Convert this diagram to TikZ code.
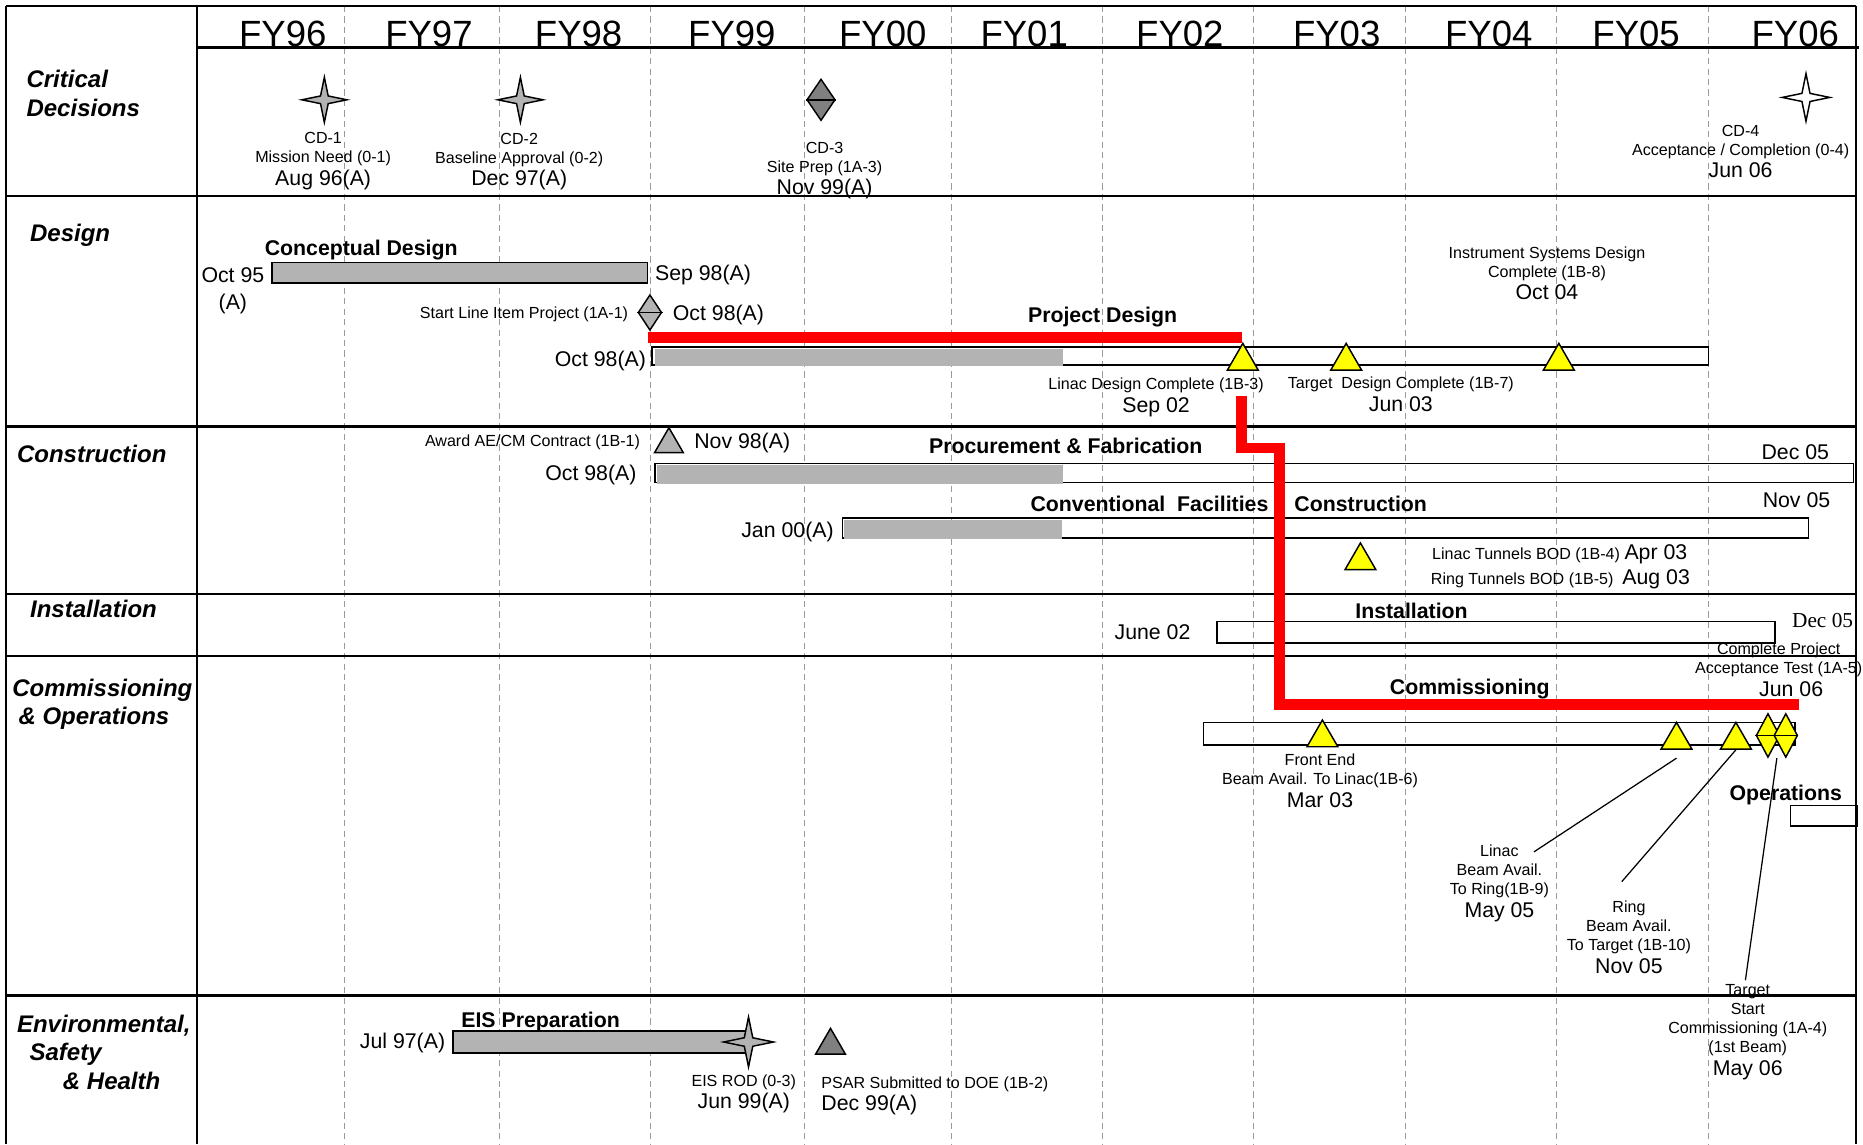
\documentclass[tikz,border=0pt]{standalone}
\usepackage{fontspec}
\setmainfont{Liberation Sans}
\newfontfamily\timesfam{Liberation Serif}
\usepackage{tikz}
\usetikzlibrary{shapes.geometric,calc}
\definecolor{bargray}{HTML}{B3B3B3}
\definecolor{markgray}{HTML}{808080}
\definecolor{gridgray}{HTML}{9A9A9A}
\definecolor{cpred}{HTML}{FF0000}
\definecolor{msyellow}{HTML}{FFFF00}
\newcommand{\fysize}{\fontsize{17.5}{20}\selectfont}
\newcommand{\lblsize}{\fontsize{7.7}{9.1}\selectfont}
\newcommand{\datesize}{\fontsize{10.2}{12}\selectfont}
\newcommand{\barsize}{\bfseries\fontsize{10.2}{12}\selectfont}
\newcommand{\rowsize}{\bfseries\itshape\fontsize{11.5}{13.6}\selectfont}

\begin{document}
\begin{tikzpicture}[x=0.02cm, y=-0.02cm,
    fyline/.style={gridgray, dash pattern=on 3pt off 2pt, line width=0.4pt},
    rowline/.style={line width=1.2pt},
    colline/.style={line width=0.8pt},
    donebar/.style={draw, fill=bargray, line width=0.8pt},
    openbar/.style={draw, line width=0.8pt},
    critpath/.style={cpred, line width=5pt},
    leader/.style={line width=0.6pt},
    ytri/.style={regular polygon, regular polygon sides=3, draw, fill=msyellow, inner sep=0pt, minimum size=0.6cm, line width=0.7pt},
    msdiamond/.style={diamond, draw, inner sep=0pt, minimum width=0.4cm, minimum height=0.7cm, line width=0.7pt},
    pics/fourstar/.style 2 args={code={
        \draw[line width=0.7pt, fill=#1] (0,-#2) -- (0.17*#2,-0.17*#2) -- (#2,0) -- (0.17*#2,0.17*#2)
            -- (0,#2) -- (-0.17*#2,0.17*#2) -- (-#2,0) -- (-0.17*#2,-0.17*#2) -- cycle;
        \coordinate (-c) at (0,0);}},
    fy/.style={font=\fysize, inner sep=0pt, text height=12.5pt, text depth=0pt},
    lbl/.style={font=\lblsize, inner sep=0pt, text height=5.5pt, text depth=0pt},
    dte/.style={font=\datesize, inner sep=0pt, text height=7.3pt, text depth=0pt},
    barlbl/.style={font=\barsize, inner sep=0pt, text height=7.3pt, text depth=0pt},
    lblblock/.style={font=\lblsize, inner sep=0pt, align=center, anchor=north},
    rowlbl/.style={font=\rowsize, inner sep=0pt, align=left, anchor=north west}]
    \useasboundingbox (0,0) rectangle (1568,963);

    % Year grid
    \foreach \gx in {290,420,547,677,801,928,1055,1183,1310,1438}
        \draw[fyline] (\gx,5) -- (\gx,963);

    % Frame
    \draw[rowline] (5,5) -- (1562,5);
    \draw[rowline] (5,5) -- (5,963);
    \draw[rowline] (1562,5) -- (1562,963);
    \draw[colline] (166,5) -- (166,963);
    \draw[rowline] (166,40) -- (1565,40);
    \foreach \ry in {165,359,500,552,838}
        \draw[rowline] (5,\ry) -- (1562,\ry);

    % Fiscal years
    \foreach \fx/\fn in {238/96,361/97,487/98,616/99,743/00,862/01,993/02,1125/03,1253/04,1377/05,1511/06}
        \node[fy] (fy\fn) at (\fx,28) {FY\fn};

    % Row labels
    \node[rowlbl] (rowCD) at (22,59) {Critical\\Decisions};
    \node[rowlbl] (rowDes) at (25,188) {Design};
    \node[rowlbl] (rowCon) at (14,374) {Construction};
    \node[rowlbl] (rowIns) at (25,505) {Installation};
    \node[rowlbl] (rowCom) at (10,571) {Commissioning\\\hspace{3pt}\& Operations};
    \node[rowlbl] (rowEnv) at (14,854) {Environmental,\\\hspace{6pt}Safety\\\hspace{22pt}\& Health};

    % Bars
    \draw[donebar] (229,221) rectangle (545,238);
    \draw[openbar] (549,292) rectangle (1438,307);
    \fill[bargray] (551,293.5) rectangle (895,308);
    \draw[openbar] (551,390) rectangle (1560,406);
    \fill[bargray] (553,391.5) rectangle (895,407);
    \draw[openbar] (709,436) rectangle (1522,453);
    \fill[bargray] (710,437.5) rectangle (894,454);
    \draw[openbar] (1024,523) rectangle (1494,541);
    \draw[openbar] (1013,608) rectangle (1511,627);
    \draw[openbar] (1507,678) rectangle (1563,695);
    \draw[donebar] (381,868) rectangle (630,886);

    % Critical path
    \coordinate (cpStart) at (545,284);
    \coordinate (cpLinac) at (1045,284);
    \coordinate (cpResume) at (1045,333);
    \coordinate (cpEnd) at (1514,593);
    \draw[critpath] (cpStart) -- (cpLinac);
    \draw[critpath] (cpResume) -- (1045,377) -- (1077,377) -- (1077,593) -- (cpEnd);

    % Critical decisions
    \pic (cdOne) at (273,84) {fourstar={bargray}{19}};
    \pic (cdTwo) at (438,84) {fourstar={bargray}{19}};
    \node[msdiamond, fill=markgray, minimum width=0.48cm] (cdThree) at (691,84) {};
    \draw[line width=0.7pt] (cdThree.west) -- (cdThree.east);
    \pic (cdFour) at (1520,82) {fourstar={white}{20}};
    \node[lblblock] (cdOneTxt) at (272,111) {CD-1\\Mission Need (0-1)\\[1.7pt]{\datesize Aug 96(A)}};
    \node[lblblock] (cdTwoTxt) at (437,112) {CD-2\\Baseline Approval (0-2)\\[1.5pt]{\datesize Dec 97(A)}};
    \node[lblblock] (cdThreeTxt) at (694,119) {CD-3\\Site Prep (1A-3)\\[1.5pt]{\datesize Nov 99(A)}};
    \node[lblblock] (cdFourTxt) at (1465,105) {CD-4\\Acceptance / Completion (0-4)\\[1.5pt]{\datesize Jun 06}};

    % Design
    \node[barlbl] (cdesLbl) at (304,209) {Conceptual Design};
    \node[lblblock, font=\datesize] (cdesStart) at (196,224.6) {Oct 95\\[1pt](A)};
    \node[dte, anchor=west] (cdesEnd) at (551,230) {Sep 98(A)};
    \node[msdiamond, fill=bargray, minimum height=0.6cm] (startLI) at (547,263) {};
    \draw[line width=0.7pt] (startLI.west) -- (startLI.east);
    \node[lbl, anchor=east] (startLITxt) at (529,263) {Start Line Item Project (1A-1)};
    \node[dte, anchor=west] (startLIDate) at (566,263) {Oct 98(A)};
    \node[barlbl] (pdesLbl) at (928,265) {Project Design};
    \node[dte, anchor=east] (pdesStart) at (544,302) {Oct 98(A)};
    \node[ytri] (linacDes) at (1046,304) {};
    \node[ytri] (targetDes) at (1133,304) {};
    \node[ytri] (instDes) at (1312,304) {};
    \node[lblblock] (linacDesTxt) at (973,318) {Linac Design Complete (1B-3)\\[1.6pt]{\datesize Sep 02}};
    \node[lblblock] (targetDesTxt) at (1179,317) {Target\ \ Design Complete (1B-7)\\[2pt]{\datesize Jun 03}};
    \node[lblblock] (instDesTxt) at (1302,207) {Instrument Systems Design\\Complete (1B-8)\\[1.8pt]{\datesize Oct 04}};

    % Construction
    \node[ytri, fill=bargray, minimum size=0.56cm] (awardAE) at (563,374) {};
    \node[lbl, anchor=east] (awardTxt) at (539,371) {Award AE/CM Contract (1B-1)};
    \node[dte, anchor=west] (awardDate) at (584,371) {Nov 98(A)};
    \node[barlbl] (procLbl) at (897,375) {Procurement \& Fabrication};
    \node[dte] (procEnd) at (1511,380) {Dec 05};
    \node[dte, anchor=east] (procStart) at (536,398) {Oct 98(A)};
    \node[barlbl, anchor=west] (cfLbl) at (867,424) {Conventional\ \ Facilities\hspace{12.5pt}Construction};
    \node[dte] (cfEnd) at (1512,421) {Nov 05};
    \node[dte, anchor=east] (cfStart) at (702,446) {Jan 00(A)};
    \node[ytri] (tunnels) at (1145,472) {};
    \node[lbl, anchor=west] (linacTun) at (1205,466) {Linac Tunnels BOD (1B-4) {\datesize Apr 03}};
    \node[lbl, anchor=west] (ringTun) at (1204,487) {Ring Tunnels BOD (1B-5)\ \ {\datesize Aug 03}};

    % Installation
    \node[barlbl] (instLbl) at (1188,514) {Installation};
    \node[dte] (instStart) at (970,532) {June 02};
    \node[dte, font=\timesfam\datesize, anchor=west] (instEnd) at (1508,522) {Dec 05};
    \node[lblblock] (accTxt) at (1497,541) {Complete Project\\Acceptance Test (1A-5)\\[1.8pt]\hspace{12pt}{\datesize Jun 06}};

    % Commissioning and operations
    \node[barlbl] (commLbl) at (1237,578) {Commissioning};
    \node[barlbl] (opsLbl) at (1503,667) {Operations};
    \node[ytri] (frontEnd) at (1113,621) {};
    \node[ytri] (linacBeam) at (1411,623) {};
    \node[ytri] (ringBeam) at (1461,623) {};
    \node[msdiamond, fill=msyellow, minimum height=0.74cm] (targetBeam) at (1488,619) {};
    \draw[line width=0.7pt] (targetBeam.west) -- (targetBeam.east);
    \node[msdiamond, fill=msyellow, minimum height=0.74cm] (projDone) at (1503,619) {};
    \draw[line width=0.7pt] (projDone.west) -- (projDone.east);
    \node[lblblock] (frontEndTxt) at (1111,634) {Front End\\Beam Avail. To Linac(1B-6)\\[1.8pt]{\datesize Mar 03}};
    \node[lblblock] (linacBeamTxt) at (1262,711) {Linac\\Beam Avail.\\To Ring(1B-9)\\[1.9pt]{\datesize May 05}};
    \node[lblblock] (ringBeamTxt) at (1371,758) {Ring\\Beam Avail.\\To Target (1B-10)\\[1.8pt]{\datesize Nov 05}};
    \node[lblblock] (targetTxt) at (1471,828) {Target\\Start\\Commissioning (1A-4)\\(1st Beam)\\[1.8pt]{\datesize May 06}};
    \coordinate (lkLinac) at (1291,717);
    \coordinate (lkRing) at (1365,742);
    \coordinate (lkTarget) at (1469,825);
    \draw[leader] (lkLinac) -- ($(linacBeam.south)+(0,7)$);
    \draw[leader] (lkRing) -- (ringBeam.south);
    \draw[leader] (lkTarget) -- ($(targetBeam.south)!0.5!(projDone.south)$);

    % Environmental, safety and health
    \node[barlbl] (eisLbl) at (455,858) {EIS Preparation};
    \node[dte, anchor=east] (eisStart) at (375,876) {Jul 97(A)};
    \pic (eisRod) at (630,877) {fourstar={bargray}{21}};
    \node[lblblock] (eisRodTxt) at (626,904) {EIS ROD (0-3)\\[1.8pt]{\datesize Jun 99(A)}};
    \node[ytri, fill=markgray, minimum size=0.58cm] (psar) at (699,880) {};
    \node[lblblock, align=left, anchor=north west] (psarTxt) at (691,906) {PSAR Submitted to DOE (1B-2)\\[1.5pt]{\datesize Dec 99(A)}};
\end{tikzpicture}
\end{document}
